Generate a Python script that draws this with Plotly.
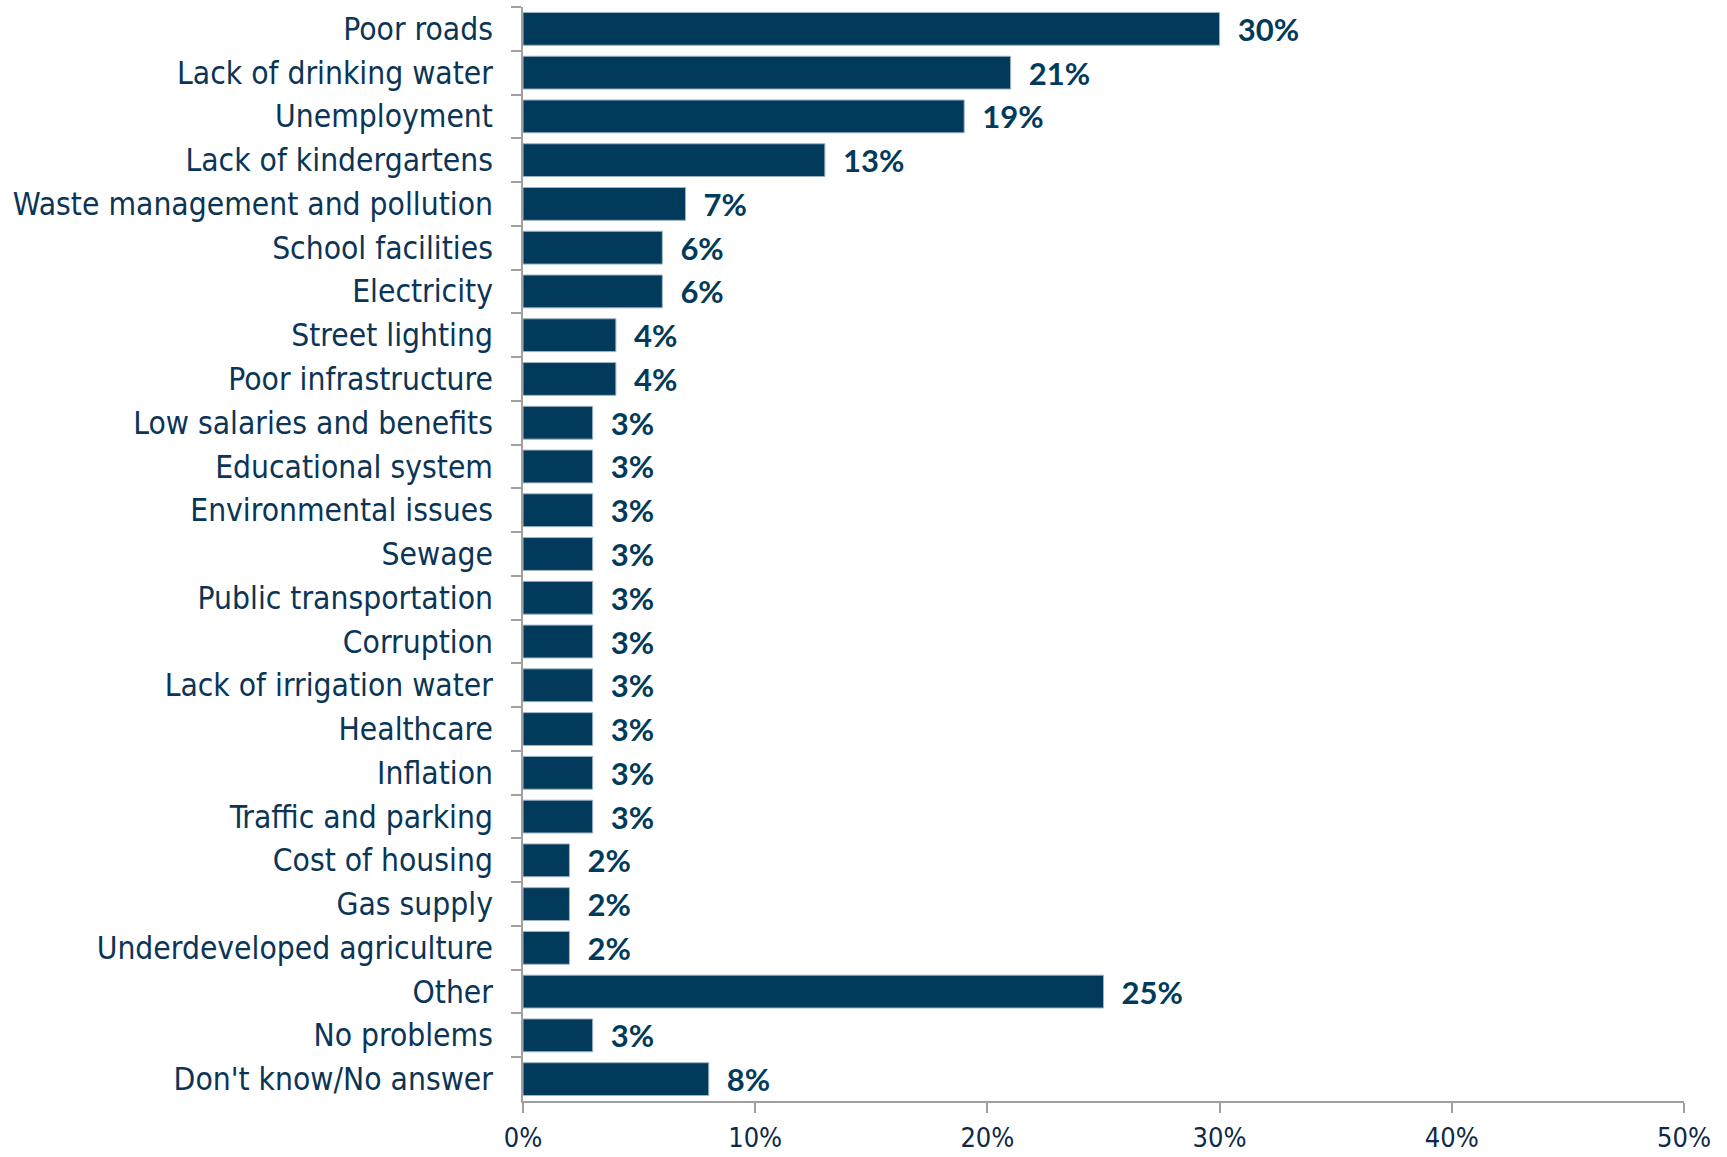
import plotly.graph_objects as go

categories = [
    "Poor roads", "Lack of drinking water", "Unemployment", "Lack of kindergartens",
    "Waste management and pollution", "School facilities", "Electricity",
    "Street lighting", "Poor infrastructure", "Low salaries and benefits",
    "Educational system", "Environmental issues", "Sewage", "Public transportation",
    "Corruption", "Lack of irrigation water", "Healthcare", "Inflation",
    "Traffic and parking", "Cost of housing", "Gas supply", "Underdeveloped agriculture",
    "Other", "No problems", "Don't know/No answer",
]
values = [30, 21, 19, 13, 7, 6, 6, 4, 4, 3, 3, 3, 3, 3, 3, 3, 3, 3, 3, 2, 2, 2, 25, 3, 8]
x_ticks = [0, 10, 20, 30, 40, 50]
x_tick_labels = ["0%", "10%", "20%", "30%", "40%", "50%"]

BAR = "#023A5B"
TEXT = "#0B3556"

fig = go.Figure()
fig.add_trace(go.Bar(
    y=categories,
    x=values,
    orientation="h",
    marker=dict(color=BAR, line=dict(color="#9FB3C4", width=1)),
    text=["\u00a0\u00a0" + f"{v}%" for v in values],
    textposition="outside",
    constraintext="none",
    textfont=dict(family="Lato", size=31, color=BAR, weight="bold"),
    cliponaxis=False,
    hoverinfo="x+y",
))

fig.update_layout(
    width=1727, height=1157,
    margin=dict(l=523, r=43, t=7, b=56),
    paper_bgcolor="white", plot_bgcolor="white",
    bargap=0.25,
    showlegend=False,
)
fig.update_yaxes(
    range=[len(categories) - 0.5, -0.5],
    showline=True, linecolor="#A0A0A0", linewidth=1.5,
    ticks="outside", ticklen=10, tickcolor="#A0A0A0", tickwidth=1.5,
    tickson="boundaries",
    tickfont=dict(family="DejaVu Sans Condensed", size=31.5, color=TEXT),
    ticklabelstandoff=22,
    showgrid=False, automargin=False,
)
fig.update_xaxes(
    range=[0, 50],
    tickvals=x_ticks, ticktext=x_tick_labels,
    showline=True, linecolor="#A0A0A0", linewidth=1.5,
    ticks="outside", ticklen=10, tickcolor="#A0A0A0", tickwidth=1.5,
    tickfont=dict(family="DejaVu Sans Condensed", size=27, color="#0D2A48"),
    ticklabelstandoff=2,
    showgrid=False, zeroline=False, automargin=False,
)

fig.write_html("out.html", config={"displayModeBar": False},
               post_script="document.body.style.margin='0';")
